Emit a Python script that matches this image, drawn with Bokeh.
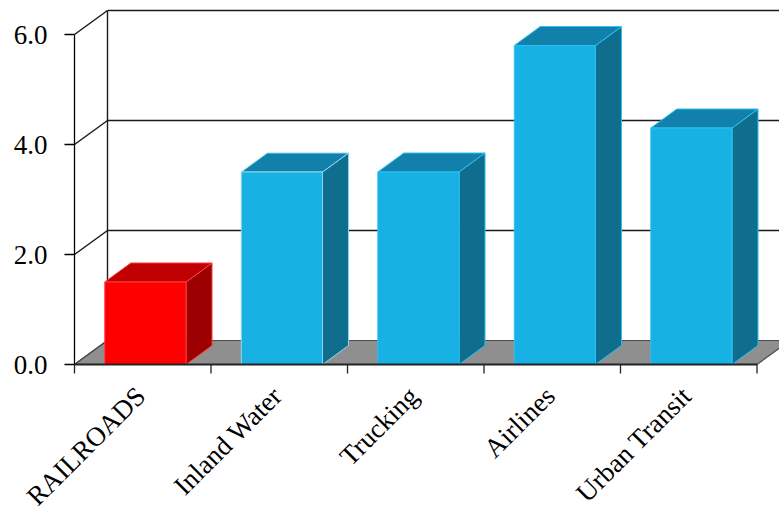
import math
from bokeh.plotting import figure
from bokeh.models import Range1d
from bokeh.core.properties import value
from bokeh.embed import file_html
from bokeh.resources import INLINE

# ---- data ----
categories = ["RAILROADS", "Inland Water", "Trucking", "Airlines", "Urban Transit"]
values = [1.5, 3.5, 3.5, 5.8, 4.3]
y_ticks = [0, 2, 4, 6]
y_tick_labels = ["0.0", "2.0", "4.0", "6.0"]

# ---- styling ----
front_colors = ["#FF0000", "#18B1E4", "#18B1E4", "#18B1E4", "#18B1E4"]
top_colors = ["#C00000", "#1181AB", "#1181AB", "#1181AB", "#1181AB"]
side_colors = ["#9C0000", "#0F6D8D", "#0F6D8D", "#0F6D8D", "#0F6D8D"]
edge_colors = ["#FF3A3A", "#8ED6F0", "#2EC0F2", "#2EC0F2", "#2EC0F2"]

W, H = 779, 514
PX_X = 136.5   # pixels per category
PX_Y = 55.0    # pixels per unit
LEFT = 74      # pixel position of the value axis
BOTTOM = 150   # pixels below the zero line

x_start = -LEFT / PX_X
x_end = (W - LEFT) / PX_X
y_start = -BOTTOM / PX_Y
y_end = (H - BOTTOM) / PX_Y

FD_X, FD_Y = 33 / PX_X, 24 / PX_Y   # floor / wall depth
BD_X, BD_Y = 26 / PX_X, 19 / PX_Y   # bar depth
BAR_OFF, BAR_W = 0.222, 0.595
n = len(categories)
ymax = max(y_ticks)

p = figure(width=W, height=H, output_backend="svg", toolbar_location=None,
           x_range=Range1d(x_start, x_end), y_range=Range1d(y_start, y_end),
           min_border_left=0, min_border_right=0, min_border_top=0,
           min_border_bottom=0, x_axis_location=None, y_axis_location=None)
p.outline_line_color = None
p.xgrid.visible = False
p.ygrid.visible = False
p.background_fill_color = "white"
p.border_fill_color = "white"

# back wall grid lines
gx, gy = [], []
for v in y_ticks:
    gx.append([0, FD_X]); gy.append([v, v + FD_Y])
    if v > 0:
        gx.append([FD_X, x_end]); gy.append([v + FD_Y, v + FD_Y])
gx.append([FD_X, FD_X]); gy.append([FD_Y, ymax + FD_Y])
p.multi_line(gx, gy, line_color="#1a1a1a", line_width=1.4)

# floor
p.patch([0, n, n + FD_X, FD_X], [0, 0, FD_Y, FD_Y],
        fill_color="#8F8F8F", line_color="#4a4a4a", line_width=1.2)

# value axis line, ticks and labels
p.segment(x0=[0], y0=[0], x1=[0], y1=[ymax], line_color="black", line_width=1.3)
p.segment(x0=[0] * len(y_ticks), y0=y_ticks, x1=[-10 / PX_X] * len(y_ticks), y1=y_ticks,
          line_color="black", line_width=1.3)
p.text(x=[-27 / PX_X] * len(y_ticks), y=y_ticks, text=y_tick_labels,
       text_align="right", text_baseline="middle",
       text_font=value("Liberation Serif"), text_font_size=value("27px"),
       text_color="black")

# bars
fx, fy, tx, ty, sx, sy = [], [], [], [], [], []
for i, v in enumerate(values):
    l = i + BAR_OFF
    r = l + BAR_W
    fx.append([l, r, r, l]); fy.append([0, 0, v, v])
    tx.append([l, r, r + BD_X, l + BD_X]); ty.append([v, v, v + BD_Y, v + BD_Y])
    sx.append([r, r + BD_X, r + BD_X, r]); sy.append([0, BD_Y, v + BD_Y, v])
p.patches(sx, sy, fill_color=side_colors, line_color=edge_colors, line_width=1)
p.patches(tx, ty, fill_color=top_colors, line_color=edge_colors, line_width=1)
p.patches(fx, fy, fill_color=front_colors, line_color=edge_colors, line_width=1)

# category axis line and ticks
p.segment(x0=[0], y0=[0], x1=[n], y1=[0], line_color="#222222", line_width=2)
bx = list(range(n + 1))
p.segment(x0=bx, y0=[0] * len(bx), x1=bx, y1=[-9 / PX_Y] * len(bx),
          line_color="#222222", line_width=1.3)

# category labels
p.text(x=[i + 0.5 - 2 / PX_X for i in range(n)], y=[-27 / PX_Y] * n, text=categories,
       angle=math.pi / 4, text_align="right", text_baseline="middle",
       text_font=value("Liberation Serif"), text_font_size=value("27px"),
       text_color="black")

open("out.html", "w").write(file_html(p, INLINE))
